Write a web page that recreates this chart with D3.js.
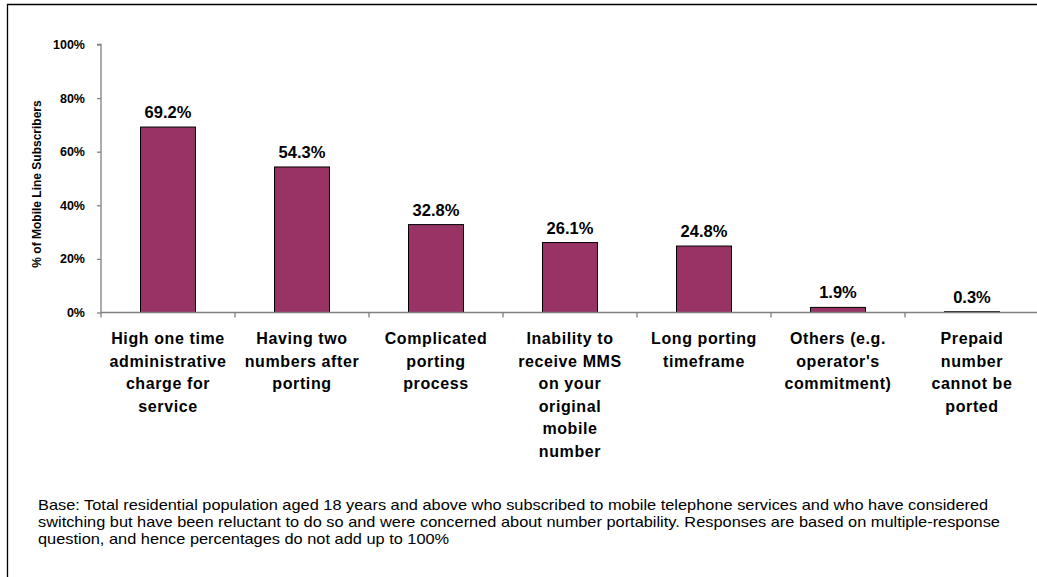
<!DOCTYPE html>
<html>
<head>
<meta charset="utf-8">
<script src="https://cdn.jsdelivr.net/npm/d3@7"></script>
<style>
  html, body { margin: 0; padding: 0; background: #fff; }
  svg { display: block; font-family: "Liberation Sans", Arial, sans-serif; }
</style>
</head>
<body>
<svg id="chart" width="1037" height="577"></svg>
<script>
// Reasons for reluctance to switch, % of mobile line subscribers
const categories = [
  ["High one time", "administrative", "charge for", "service"],
  ["Having two", "numbers after", "porting"],
  ["Complicated", "porting", "process"],
  ["Inability to", "receive MMS", "on your", "original", "mobile", "number"],
  ["Long porting", "timeframe"],
  ["Others (e.g.", "operator's", "commitment)"],
  ["Prepaid", "number", "cannot be", "ported"]
];
const values = [69.2, 54.3, 32.8, 26.1, 24.8, 1.9, 0.3];
const yTicks = [0, 20, 40, 60, 80, 100];
const yTitle = "% of Mobile Line Subscribers";
const footnote = [
  "Base: Total residential population aged 18 years and above who subscribed to mobile telephone services and who have considered",
  "switching but have been reluctant to do so and were concerned about number portability. Responses are based on multiple-response",
  "question, and hence percentages do not add up to 100%"
];

const svg = d3.select("#chart");

// outer frame (left and top edges)
svg.append("path")
  .attr("d", "M7.5,577 L7.5,4.5 L1037,4.5")
  .attr("fill", "none").attr("stroke", "#000").attr("stroke-width", 1.3);

const x0 = 101, bandW = 134;
const x = d3.scaleBand()
  .domain(d3.range(categories.length))
  .range([x0, x0 + bandW * categories.length])
  .paddingInner(0).paddingOuter(0);
const y = d3.scaleLinear().domain([0, 100]).range([312.5, 44.5]);

// y axis
const yAxis = svg.append("g")
  .attr("transform", `translate(${x0},0)`)
  .call(d3.axisLeft(y).tickValues(yTicks).tickSize(4).tickPadding(12).tickFormat(d => d + "%"));
yAxis.selectAll("path, line").attr("stroke", "#808080").attr("stroke-width", 1.3);
yAxis.select(".domain").attr("d", `M-4,${y(100)}H0V${y(0)}`);
yAxis.selectAll("text")
  .attr("font-size", 12.5).attr("font-weight", "bold").attr("fill", "#000")
  .attr("font-family", "'Liberation Sans', Arial, sans-serif");

// bars
const barW = 55;
svg.append("g").selectAll("rect")
  .data(values)
  .join("rect")
  .attr("x", (d, i) => x(i) + (bandW - barW) / 2)
  .attr("y", d => y(d))
  .attr("width", barW)
  .attr("height", d => y(0) - y(d))
  .attr("fill", "#993366")
  .attr("stroke", "#000")
  .attr("stroke-width", 1);

// x axis line and ticks at band boundaries
const xAxis = svg.append("g").attr("transform", `translate(0,${y(0)})`);
xAxis.append("line")
  .attr("x1", x0).attr("x2", 1037).attr("y1", 0).attr("y2", 0)
  .attr("stroke", "#808080").attr("stroke-width", 1.3);
xAxis.selectAll("line.tick")
  .data(d3.range(categories.length + 1))
  .join("line")
  .attr("class", "tick")
  .attr("x1", i => x0 + i * bandW).attr("x2", i => x0 + i * bandW)
  .attr("y1", 0).attr("y2", 5)
  .attr("stroke", "#808080").attr("stroke-width", 1.3);

// value labels
svg.append("g").selectAll("text")
  .data(values)
  .join("text")
  .attr("x", (d, i) => x(i) + bandW / 2)
  .attr("y", d => y(d) - 9)
  .attr("text-anchor", "middle")
  .attr("font-size", 16.5).attr("font-weight", "bold")
  .text(d => d.toFixed(1) + "%");

// category labels
const cat = svg.append("g").selectAll("text")
  .data(categories)
  .join("text")
  .attr("text-anchor", "middle")
  .attr("font-size", 16).attr("font-weight", "bold")
  .attr("letter-spacing", 0.6);
cat.each(function(lines, i) {
  d3.select(this).selectAll("tspan")
    .data(lines)
    .join("tspan")
    .attr("x", x(i) + bandW / 2)
    .attr("y", (d, j) => 344 + j * 22.5)
    .text(d => d);
});

// y axis title
svg.append("text")
  .attr("transform", "translate(41,184) rotate(-90)")
  .attr("text-anchor", "middle")
  .attr("font-size", 12).attr("font-weight", "bold")
  .text(yTitle);

// footnote (set slightly wide)
svg.append("g").selectAll("text")
  .data(footnote)
  .join("text")
  .attr("transform", (d, i) => `translate(38,${510 + i * 17}) scale(1.17,1)`)
  .attr("font-size", 14)
  .text(d => d);
</script>
</body>
</html>
